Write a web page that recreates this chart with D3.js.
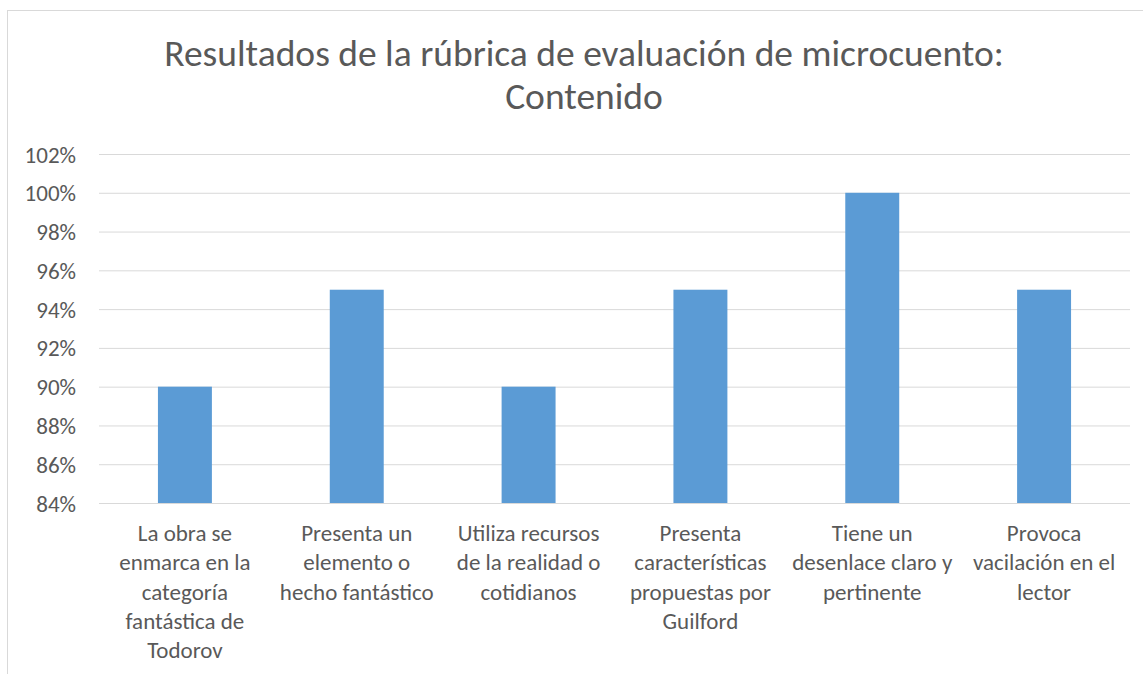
<!DOCTYPE html>
<html>
<head>
<meta charset="utf-8">
<script src="https://cdn.jsdelivr.net/npm/d3@7"></script>
<style>
  body { margin: 0; background: #fff; }
  svg { display: block; }
</style>
</head>
<body>
<script>
// data
const titleLines = ["Resultados de la rúbrica de evaluación de microcuento:", "Contenido"];
const categories = [
  ["La obra se", "enmarca en la", "categoría", "fantástica de", "Todorov"],
  ["Presenta un", "elemento o", "hecho fantástico"],
  ["Utiliza recursos", "de la realidad o", "cotidianos"],
  ["Presenta", "características", "propuestas por", "Guilford"],
  ["Tiene un", "desenlace claro y", "pertinente"],
  ["Provoca", "vacilación en el", "lector"]
];
const values = [0.90, 0.95, 0.90, 0.95, 1.00, 0.95];
const yTicks = [0.84, 0.86, 0.88, 0.90, 0.92, 0.94, 0.96, 0.98, 1.00, 1.02];

const width = 1143, height = 674;
const marginLeft = 99, marginRight = 13, marginTop = 154, marginBottom = 171;
const fontFamily = "Carlito, Calibri, Lato, sans-serif";
const textColor = "#595959";
const gridColor = "#d9d9d9";
const barColor = "#5b9bd5";

const svg = d3.select("body").append("svg")
      .attr("width", width)
      .attr("height", height)
      .attr("viewBox", [0, 0, width, height]);

// chart frame (runs off the right and bottom edge like the source)
svg.append("rect")
      .attr("x", 7.5)
      .attr("y", 10.5)
      .attr("width", 1200)
      .attr("height", 700)
      .attr("fill", "#fff")
      .attr("stroke", gridColor);

const idx = d3.range(values.length);

const xScale = d3.scaleBand()
      .domain(idx)
      .range([marginLeft, width - marginRight])
      .paddingInner(0.686)
      .paddingOuter(0.343);

const yScale = d3.scaleLinear()
      .domain([0.84, 1.02])
      .range([height - marginBottom, marginTop]);

// title
svg.append("text")
      .attr("x", 584)
      .attr("y", 66)
      .attr("text-anchor", "middle")
      .attr("font-family", fontFamily)
      .attr("font-weight", 300)
      .attr("font-size", 37.5)
      .attr("fill", textColor)
      .selectAll("tspan")
      .data(titleLines)
      .join("tspan")
      .attr("x", 584)
      .attr("dy", (d, i) => i ? 43 : 0)
      .text(d => d);

// y axis + gridlines
svg.append("g")
      .attr("transform", `translate(${marginLeft},0)`)
      .call(d3.axisLeft(yScale).tickValues(yTicks).tickFormat(d3.format(".0%")).tickSize(0).tickPadding(23))
      .call(g => g.select(".domain").remove())
      .call(g => g.selectAll(".tick line").clone()
            .attr("x2", width - marginLeft - marginRight)
            .attr("stroke", gridColor)
            .attr("stroke-width", 1))
      .call(g => g.selectAll(".tick text")
            .attr("font-family", fontFamily)
            .attr("font-size", 23)
            .attr("fill", textColor)
            .attr("dy", "0.35em"));

// bars
svg.append("g")
      .selectAll("rect")
      .data(idx)
      .join("rect")
      .attr("x", i => xScale(i))
      .attr("y", i => yScale(values[i]))
      .attr("width", xScale.bandwidth())
      .attr("height", i => yScale(0.84) - yScale(values[i]))
      .attr("fill", barColor);

// x axis line
svg.append("line")
      .attr("x1", marginLeft)
      .attr("x2", width - marginRight)
      .attr("y1", yScale(0.84) + 0.5)
      .attr("y2", yScale(0.84) + 0.5)
      .attr("stroke", gridColor);

// category labels
const labels = svg.append("g")
      .attr("font-family", fontFamily)
      .attr("font-size", 23)
      .attr("fill", textColor)
      .attr("text-anchor", "middle")
      .selectAll("text")
      .data(idx)
      .join("text")
      .attr("x", i => xScale(i) + xScale.bandwidth() / 2)
      .attr("y", 541);

labels.selectAll("tspan")
      .data(i => categories[i].map(t => ({t, i})))
      .join("tspan")
      .attr("x", d => xScale(d.i) + xScale.bandwidth() / 2)
      .attr("dy", (d, j) => j ? 29.3 : 0)
      .text(d => d.t);
</script>
</body>
</html>
